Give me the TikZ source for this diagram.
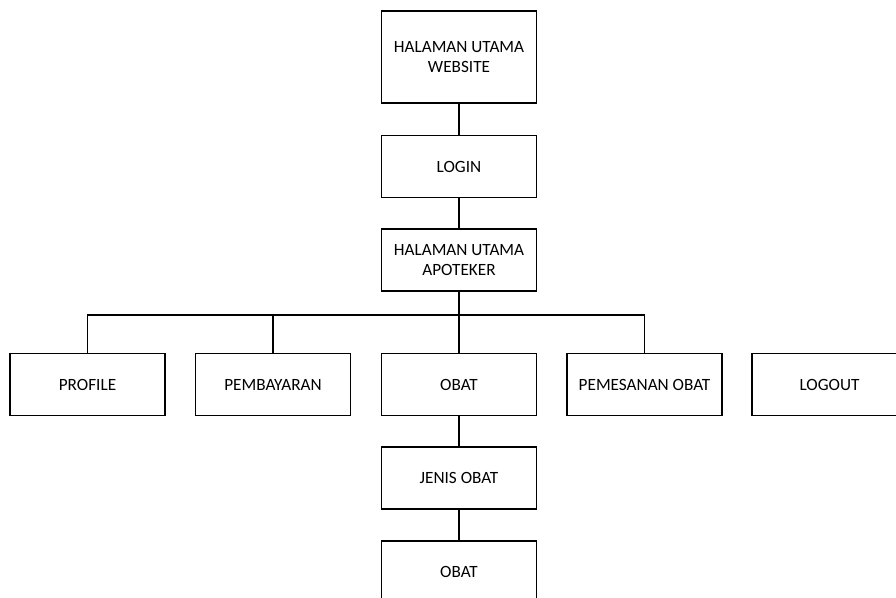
\documentclass[tikz,border=0pt]{standalone}
\usepackage{fontspec}
\setmainfont{Carlito}
\begin{document}
\begin{tikzpicture}[x=1pt,y=-1pt,
  menubox/.style={draw, line width=1.1pt, minimum width=155pt, minimum height=62pt,
    inner sep=0pt, align=center, font=\fontsize{17.2}{20}\selectfont},
  link/.style={line width=1.1pt}]
  \clip (0,0) rectangle (896,597);
  \fill[white] (0,0) rectangle (896,597);

  % main navigation chain
  \node[menubox, minimum height=92pt] (home) at (459,57) {HALAMAN UTAMA\\WEBSITE};
  \node[menubox] (login) at (459,166.5) {LOGIN};
  \node[menubox] (apo) at (459,260) {HALAMAN UTAMA\\APOTEKER};

  % menu row
  \node[menubox] (profile) at (87.5,384.5) {PROFILE};
  \node[menubox] (bayar) at (273,384.5) {PEMBAYARAN};
  \node[menubox] (obat) at (459,384.5) {OBAT};
  \node[menubox] (pesan) at (644.5,384.5) {PEMESANAN OBAT};
  \node[menubox] (logout) at (829.5,384.5) {LOGOUT};

  % drug sub-pages
  \node[menubox] (jenis) at (459,478) {JENIS OBAT};
  \node[menubox] (obat2) at (459,572) {OBAT};

  \coordinate (bus) at (459,315);

  \draw[link] (home) -- (login);
  \draw[link] (login) -- (apo);
  \draw[link] (apo.south) -- (obat.north);
  \draw[link] (profile.north) |- (pesan.north |- bus) -- (pesan.north);
  \draw[link] (bayar.north) -- (bayar.north |- bus);
  \draw[link] (obat) -- (jenis);
  \draw[link] (jenis) -- (obat2);
\end{tikzpicture}
\end{document}
